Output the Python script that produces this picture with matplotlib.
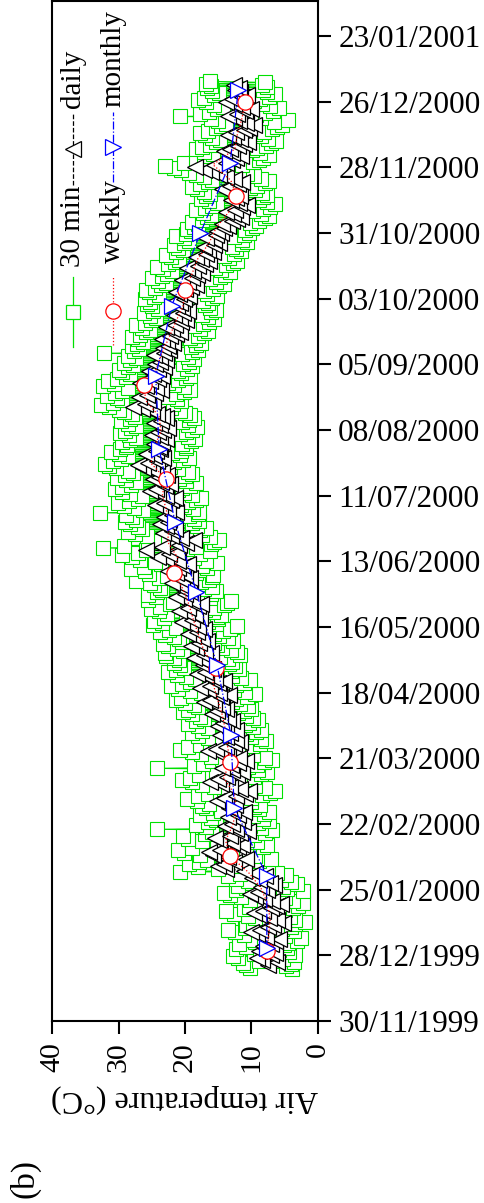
import pandas as pd
import matplotlib
matplotlib.use('Agg')
import matplotlib.pyplot as plt
import matplotlib.dates as mdates

plt.rcParams['font.family'] = ['Liberation Serif', 'DejaVu Serif']

# 30 min air temperature, one early-morning and one afternoon reading per day (degC)
t_30min = [
    # Dec 1999 (22-31)
    3.9, 10.2, 4.8, 10.9, 4.1, 11.3, 3.6, 8.9, 5.2, 12.0, 6.0, 12.8, 3.4, 9.6, 4.3, 8.7, 5.9, 12.4, 4.7, 10.8,
    # Jan 2000
    5.1, 11.9, 4.5, 9.4, 3.2, 9.8, 2.6, 8.1, 4.9, 11.2, 6.3, 12.5, 3.6, 13.6, 5.4, 11.0, 4.1, 10.9, 3.5, 9.7,
    2.0, 7.9, 3.4, 9.5, 4.2, 10.6, 5.8, 12.7, 6.1, 13.9, 5.0, 11.1, 3.8, 10.4, 3.0, 8.8, 2.3, 8.4, 3.7, 10.3,
    4.9, 11.6, 6.0, 13.2, 7.2, 14.1, 2.2, 12.3, 4.6, 10.9, 5.2, 12.0, 3.1, 9.9, 4.0, 10.6, 5.5, 12.4, 6.6, 13.5,
    4.8, 11.7,
    # Feb 2000
    6.2, 20.7, 7.5, 15.0, 9.9, 18.1, 11.6, 19.4, 10.5, 17.9, 8.8, 16.7, 7.1, 14.3, 9.4, 17.8, 11.9, 20.2, 12.5, 21.0,
    10.8, 18.9, 8.3, 15.6, 7.6, 15.2, 9.1, 17.4, 10.7, 19.6, 11.4, 20.3, 9.6, 17.0, 8.0, 15.9, 6.9, 24.2, 8.5, 16.8,
    10.2, 18.3, 9.0, 16.6, 7.4, 15.3, 8.3, 16.1, 9.8, 17.7, 8.1, 15.8, 7.3, 14.6, 8.9, 16.9, 9.6, 17.5,
    # Mar 2000
    8.7, 16.4, 10.1, 18.2, 11.3, 19.7, 10.0, 18.0, 8.4, 16.5, 7.2, 14.8, 6.5, 14.1, 7.9, 15.6, 9.4, 17.5, 10.8, 18.9,
    12.3, 20.4, 11.1, 19.2, 9.6, 17.9, 8.5, 16.0, 7.6, 15.4, 9.0, 24.2, 10.5, 18.6, 9.2, 17.3, 8.1, 15.9, 6.9, 14.5,
    8.0, 16.1, 9.7, 17.6, 10.9, 19.0, 12.6, 20.8, 11.4, 19.5, 9.9, 17.8, 8.7, 16.3, 7.8, 15.5, 8.5, 16.6, 10.0, 18.1,
    10.8, 19.0,
    # Apr 2000
    9.3, 17.4, 8.6, 16.5, 9.8, 18.1, 11.0, 19.5, 10.4, 18.4, 9.0, 17.1, 9.7, 17.8, 10.9, 19.0, 12.0, 20.3, 11.2, 19.6,
    10.0, 18.0, 10.6, 18.7, 11.8, 20.0, 13.0, 21.4, 12.4, 20.6, 10.7, 18.8, 9.5, 17.6, 11.0, 19.2, 12.7, 21.0, 13.8, 22.1,
    12.3, 20.4, 11.1, 19.3, 10.3, 18.5, 11.6, 19.8, 12.9, 21.2, 14.2, 22.5, 13.1, 21.3, 11.9, 20.1, 12.5, 20.7, 13.4, 21.6,
    # May 2000
    12.9, 20.9, 13.6, 21.7, 14.7, 22.8, 11.8, 23.0, 12.2, 20.3, 13.1, 21.2, 14.4, 22.5, 15.2, 23.3, 15.6, 20.4, 12.8, 20.9,
    13.5, 21.6, 14.9, 23.0, 15.7, 23.8, 14.3, 22.4, 13.2, 21.3, 12.2, 24.8, 15.4, 23.5, 16.5, 24.6, 15.1, 23.2, 15.2, 19.9,
    14.6, 22.7, 15.8, 23.9, 17.0, 25.1, 15.6, 23.7, 14.2, 22.3, 13.7, 21.8, 13.1, 25.6, 16.3, 24.4, 17.4, 25.5, 16.1, 24.2,
    15.3, 23.4,
    # Jun 2000
    17.2, 23.8, 15.9, 24.6, 18.1, 25.2, 17.6, 27.3, 16.4, 23.9, 16.0, 22.7, 15.8, 25.4, 18.3, 26.0, 17.9, 28.1, 16.7, 26.2,
    17.5, 23.6, 15.2, 24.5, 16.9, 26.7, 18.6, 27.9, 19.5, 29.4, 17.8, 27.0, 16.3, 25.8, 19.7, 32.3, 18.4, 29.1, 16.1, 25.5,
    15.6, 23.8, 14.9, 22.6, 16.2, 25.7, 17.4, 27.5, 18.9, 28.6, 17.7, 26.4, 16.8, 27.1, 18.2, 28.3, 19.0, 29.0, 17.9, 27.4,
    # Jul 2000
    18.6, 27.9, 19.4, 28.8, 18.0, 32.8, 17.9, 26.3, 18.8, 27.6, 20.1, 29.2, 20.6, 30.1, 19.5, 28.4, 18.3, 27.0, 17.6, 26.5,
    19.0, 28.3, 20.2, 29.5, 21.1, 30.6, 20.5, 29.4, 19.2, 28.1, 18.4, 27.3, 19.8, 28.9, 20.9, 30.2, 20.0, 29.0, 18.9, 27.8,
    19.6, 28.5, 21.0, 30.4, 22.3, 31.5, 22.9, 32.0, 21.7, 30.8, 20.3, 29.6, 19.4, 28.6, 20.8, 29.9, 21.9, 31.1, 20.6, 29.7,
    19.9, 28.8,
    # Aug 2000
    19.8, 28.7, 20.4, 29.5, 19.1, 28.2, 18.5, 27.4, 19.6, 28.4, 20.7, 29.8, 19.9, 29.0, 19.0, 28.1, 18.2, 27.3, 19.5, 28.6,
    20.5, 29.6, 19.4, 28.3, 18.6, 27.5, 19.2, 28.0, 20.0, 29.1, 20.8, 30.0, 22.1, 31.4, 23.4, 32.6, 21.8, 30.9, 20.6, 29.5,
    21.2, 30.3, 22.6, 31.8, 21.4, 30.6, 20.2, 29.4, 19.3, 28.5, 20.1, 32.3, 21.6, 30.7, 22.5, 31.6, 21.0, 30.2, 19.8, 28.9,
    19.2, 28.2,
    # Sep 2000
    20.6, 29.4, 21.1, 30.0, 19.7, 28.6, 19.0, 27.8, 20.3, 29.1, 19.4, 28.3, 18.7, 27.4, 19.6, 28.5, 20.4, 32.2, 18.9, 27.6,
    18.1, 26.9, 19.1, 27.9, 18.4, 27.2, 17.6, 26.3, 18.5, 27.1, 19.3, 28.0, 18.0, 26.8, 17.2, 25.9, 16.6, 25.3, 17.7, 26.4,
    18.6, 27.3, 17.3, 26.0, 16.4, 25.1, 15.7, 24.4, 16.5, 25.2, 17.4, 26.1, 16.1, 24.8, 15.3, 24.0, 16.2, 24.9, 17.0, 25.7,
    # Oct 2000
    16.6, 25.3, 17.3, 26.0, 16.0, 24.7, 15.2, 23.9, 16.7, 25.4, 17.1, 25.8, 15.8, 24.5, 14.9, 23.6, 14.2, 22.9, 15.4, 24.1,
    16.3, 25.0, 14.8, 23.5, 14.0, 22.7, 13.3, 22.0, 14.6, 23.3, 15.5, 24.2, 13.9, 22.6, 12.8, 21.5, 12.2, 20.9, 13.4, 22.1,
    14.1, 22.8, 12.7, 21.4, 11.6, 20.3, 12.3, 21.0, 13.0, 21.7, 11.4, 20.1, 10.7, 19.4, 11.5, 20.2, 12.6, 21.3, 11.2, 19.9,
    10.4, 19.1,
    # Nov 2000
    11.0, 19.7, 9.9, 18.6, 9.3, 18.0, 10.2, 18.9, 8.8, 17.5, 8.0, 16.7, 7.4, 16.1, 8.6, 17.3, 9.7, 18.4, 8.3, 17.0,
    7.2, 15.9, 6.5, 15.2, 7.7, 16.4, 8.9, 17.6, 8.2, 16.9, 7.6, 16.3, 8.4, 17.1, 9.5, 18.2, 10.3, 19.0, 9.1, 17.8,
    7.9, 16.6, 7.3, 16.0, 8.5, 17.2, 9.6, 18.3, 10.7, 19.4, 11.9, 20.6, 13.0, 21.7, 14.3, 23.0, 11.4, 20.1, 9.7, 18.4,
    # Dec 2000
    8.8, 17.2, 8.2, 16.6, 7.4, 15.8, 8.7, 17.1, 9.9, 18.3, 9.1, 17.5, 7.8, 16.2, 7.0, 15.4, 6.3, 14.7, 7.5, 15.9,
    8.6, 17.0, 9.4, 17.8, 8.1, 16.5, 6.9, 15.3, 6.2, 14.6, 5.4, 13.8, 6.6, 15.0, 4.5, 16.1, 8.5, 20.7, 9.3, 17.7,
    8.0, 16.4, 6.8, 15.2, 5.9, 14.3, 7.2, 15.6, 8.4, 16.8, 9.6, 18.0, 8.7, 17.1, 7.3, 15.7, 6.5, 14.9, 7.6, 16.0,
    8.3, 16.7,
    # Jan 2001 (1-3)
    7.7, 16.1, 8.4, 16.8, 7.9, 16.3,
]

# daily means (degC), 24/12/1999 - 02/01/2001
daily_temp = [
    7.5, 6.2, 8.4, 9.1, 7.0, 6.5, 8.8, 7.9,
    8.3, 7.1, 6.4, 5.9, 7.8, 9.2, 10.1, 8.7, 7.5, 6.8, 5.2, 6.1, 7.4, 8.9, 9.6, 8.2, 7.0, 6.3, 5.6, 6.9, 8.1, 9.4,
    10.3, 9.0, 7.7, 8.5, 6.6, 7.2, 8.8, 9.9, 8.0,
    9.5, 11.2, 13.8, 15.1, 14.2, 12.6, 10.9, 13.5, 15.8, 16.4, 14.7, 12.1, 11.4, 13.0, 14.9, 15.5, 13.2, 11.8, 10.6,
    12.4, 14.0, 12.9, 11.3, 12.2, 13.6, 12.0, 11.1, 12.8, 13.4,
    12.5, 13.9, 15.2, 14.1, 12.3, 11.0, 10.4, 11.8, 13.3, 14.6, 16.2, 15.0, 13.7, 12.2, 11.5, 12.9, 14.4, 13.1, 12.0,
    10.8, 11.9, 13.5, 14.8, 16.5, 15.3, 13.8, 12.6, 11.7, 12.4, 13.9, 14.7,
    13.2, 12.4, 13.8, 15.1, 14.3, 12.9, 13.6, 14.8, 16.0, 15.2, 13.9, 14.5, 15.7, 17.1, 16.3, 14.6, 13.4, 14.9, 16.6,
    17.8, 16.2, 15.0, 14.2, 15.5, 16.9, 18.2, 17.0, 15.8, 16.4, 17.3,
    16.8, 17.5, 18.6, 17.2, 16.1, 17.0, 18.3, 19.1, 17.9, 16.7, 17.4, 18.8, 19.6, 18.2, 17.1, 18.0, 19.3, 20.4, 19.0,
    17.8, 18.5, 19.7, 20.9, 19.5, 18.1, 17.6, 18.9, 20.2, 21.3, 20.0, 19.2,
    20.1, 19.4, 20.8, 21.9, 20.5, 19.2, 20.0, 21.4, 22.6, 21.1, 20.3, 19.6, 21.0, 22.8, 24.1, 22.4, 21.2, 25.9, 23.5,
    20.9, 19.8, 18.7, 20.6, 22.1, 23.3, 22.0, 21.5, 22.9, 23.7, 22.5,
    22.4, 23.1, 22.0, 21.3, 22.6, 23.8, 24.5, 23.2, 22.1, 21.5, 22.9, 24.0, 25.2, 24.3, 23.0, 22.2, 23.6, 24.8, 23.9,
    22.7, 23.4, 25.0, 26.3, 27.1, 25.6, 24.2, 23.3, 24.6, 25.8, 24.4, 23.7,
    23.9, 24.6, 23.5, 22.8, 23.7, 24.9, 24.1, 23.3, 22.6, 23.8, 24.7, 23.6, 22.9, 23.4, 24.2, 25.0, 26.4, 27.8, 26.0,
    24.8, 25.5, 26.9, 25.7, 24.5, 23.6, 24.4, 25.9, 26.8, 25.3, 24.1, 23.5,
    24.8, 25.4, 24.0, 23.2, 24.5, 23.7, 22.9, 23.8, 24.6, 23.1, 22.4, 23.3, 22.6, 21.8, 22.7, 23.5, 22.2, 21.4, 20.8,
    21.9, 22.8, 21.5, 20.6, 19.9, 20.7, 21.6, 20.3, 19.5, 20.4, 21.2,
    20.8, 21.5, 20.2, 19.4, 20.9, 21.3, 20.0, 19.1, 18.4, 19.6, 20.5, 19.0, 18.2, 17.5, 18.8, 19.7, 18.1, 17.0, 16.4,
    17.6, 18.3, 16.9, 15.8, 16.5, 17.2, 15.6, 14.9, 15.7, 16.8, 15.4, 14.6,
    15.2, 14.1, 13.5, 14.4, 13.0, 12.2, 11.6, 12.8, 13.9, 12.5, 11.4, 10.7, 11.9, 13.1, 12.4, 11.8, 12.6, 13.7, 14.5,
    13.3, 12.1, 11.5, 12.7, 13.8, 14.9, 16.1, 17.2, 18.5, 15.6, 13.9,
    13.0, 12.4, 11.6, 12.9, 14.1, 13.3, 12.0, 11.2, 10.5, 11.7, 12.8, 13.6, 12.3, 11.1, 10.4, 9.6, 10.8, 11.9, 12.7,
    13.5, 12.2, 11.0, 10.1, 11.4, 12.6, 13.8, 12.9, 11.5, 10.7, 11.8, 12.5,
    11.9, 12.6,
]

# weekly means (degC)
weekly_temp = [
    7.7, 7.4, 7.2, 7.6, 8.6, 10.5, 13.2, 13.9, 12.8, 12.3, 12.6, 14.2, 13.2, 13.6, 13.9, 14.4, 15.1, 15.8, 15.3,
    17.1, 17.9, 18.7, 19.4, 20.3, 21.7, 21.1, 22.6, 22.4, 22.8, 23.4, 22.9, 25.1, 24.7, 23.6, 23.9, 25.9, 26.2,
    24.3, 23.5, 22.4, 21.4, 20.3, 20.0, 19.0, 18.1, 16.4, 15.3, 13.4, 12.3, 13.1, 15.8, 12.5, 12.1, 11.4, 11.0,
]

# monthly means (degC), Dec 1999 - Dec 2000
monthly_temp = [7.7, 7.7, 12.6, 13.1, 15.2, 18.3, 21.5, 23.9, 24.4, 22.0, 17.7, 13.2, 12.0]

t30_time = pd.date_range('1999-12-22 06:00', periods=len(t_30min), freq='12h')
daily_time = pd.date_range('1999-12-24', periods=len(daily_temp), freq='D')
weekly_time = pd.date_range('1999-12-30', '2000-12-26', periods=len(weekly_temp))
monthly_time = pd.date_range('1999-12-31', periods=len(monthly_temp), freq='ME')

date_ticks = pd.date_range('1999-11-30', '2001-01-23', freq='28D')
temp_ticks = [40, 30, 20, 10, 0]

W, H = 485, 1203
fig = plt.figure(figsize=(W / 100, H / 100), dpi=100)
ax = fig.add_axes([52 / W, 182 / H, 266 / W, 1020 / H])

green = '#00e000'
ax.plot(t_30min, t30_time, color=green, lw=0.8, marker='s', ms=10, mfc='white', mec=green, mew=0.8)
ax.plot(daily_temp, daily_time, color='black', ls='--', lw=0.8, marker='<', ms=11.5,
        mfc='white', mec='black', mew=0.9)
ax.plot(weekly_temp, weekly_time, color='red', ls=':', lw=0.9, marker='o', ms=11,
        mfc='white', mec='red', mew=0.9, markevery=6)
ax.plot(monthly_temp, monthly_time, color='blue', ls='-.', lw=0.9, marker='>', ms=11.5,
        mfc='white', mec='blue', mew=0.9)

ax.set_xlim(40, 0)
start = pd.Timestamp('1999-11-30')
ax.set_ylim(start, start + pd.Timedelta(days=435))

ax.set_xticks(temp_ticks)
ax.set_xticklabels([str(t) for t in temp_ticks], rotation=90)
ax.set_yticks(date_ticks)
ax.yaxis.set_major_formatter(mdates.DateFormatter('%d/%m/%Y'))
ax.yaxis.tick_right()
ax.tick_params(axis='x', direction='out', length=9.5, width=1.5, labelsize=21.5, pad=6)
ax.tick_params(axis='y', direction='out', length=9.5, width=1.5, labelsize=22.5, pad=5)
ax.minorticks_off()
for s in ax.spines.values():
    s.set_linewidth(1.5)


# legend drawn by hand so that it reads along the rotated page
def to_ax(x, y):
    return (x - 52) / 266, (1021 - y) / 1020


entries = [
    # x, y bottom of handle, y top of handle, label bottom, label, style
    (73, 347, 277, 267, '30 min', dict(color=green, ls='-', marker='s', ms=10, mec=green)),
    (73, 185, 113, 108, 'daily', dict(color='black', ls='--', marker='<', ms=11.5, mec='black')),
    (113, 345, 277, 263, 'weekly', dict(color='red', ls=':', marker='o', ms=11, mec='red')),
    (113, 182, 112, 107, 'monthly', dict(color='blue', ls='-.', marker='>', ms=11.5, mec='blue')),
]
for x, y0, y1, ylab, label, style in entries:
    xa, ya0 = to_ax(x, y0)
    _, ya1 = to_ax(x, y1)
    ax.plot([xa, xa, xa], [ya0, (ya0 + ya1) / 2, ya1], transform=ax.transAxes, lw=0.9,
            mfc='white', mew=0.9, markevery=[1], clip_on=False, zorder=5, **style)
    _, yl = to_ax(x, ylab)
    ax.text(xa, yl, label, transform=ax.transAxes, rotation=90, ha='center', va='bottom',
            fontsize=21, zorder=6)

fig.text(185 / W, 1 - 1099 / H, 'Air temperature (°C)', rotation=180, ha='center', va='center',
         fontsize=23)
fig.text(25 / W, 1 - 1178 / H, '(b)', rotation=90, ha='center', va='center', fontsize=24)

fig.savefig('out.png', dpi=100)
